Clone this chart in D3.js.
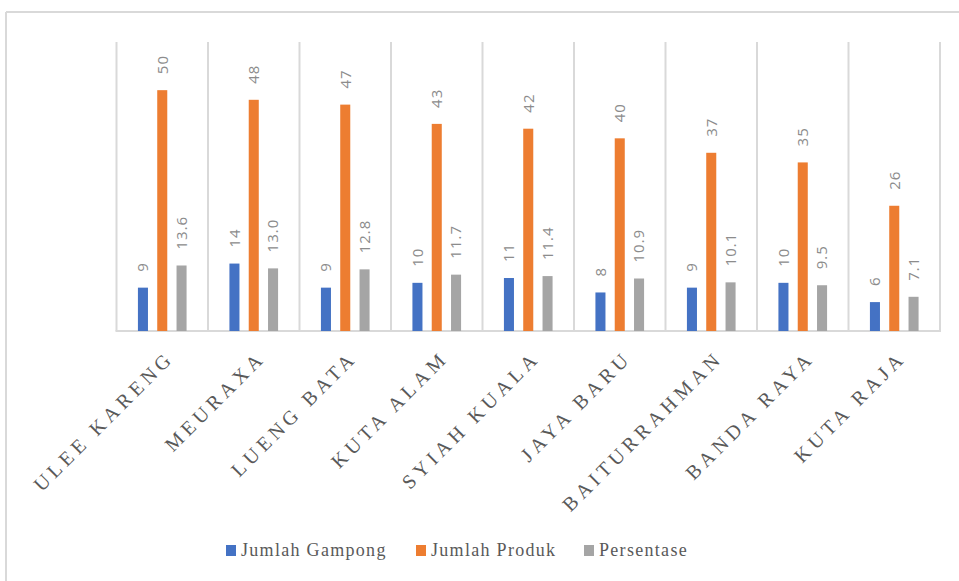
<!DOCTYPE html>
<html>
<head>
<meta charset="utf-8">
<script src="https://cdn.jsdelivr.net/npm/d3@7"></script>
<style>
  html, body { margin: 0; padding: 0; background: #fff; }
  svg { display: block; }
</style>
</head>
<body>
<svg id="chart" width="959" height="581"></svg>
<script>
// Kecamatan names and their three series
const categories = ["ULEE KARENG", "MEURAXA", "LUENG BATA", "KUTA ALAM", "SYIAH KUALA",
                    "JAYA BARU", "BAITURRAHMAN", "BANDA RAYA", "KUTA RAJA"];
const jumlahGampong = [9, 14, 9, 10, 11, 8, 9, 10, 6];
const jumlahProduk = [50, 48, 47, 43, 42, 40, 37, 35, 26];
const persentase = [13.6, 13.0, 12.8, 11.7, 11.4, 10.9, 10.1, 9.5, 7.1];
const seriesNames = ["Jumlah Gampong", "Jumlah Produk", "Persentase"];
const seriesColors = ["#4472C4", "#ED7D31", "#A5A5A5"];
const yDomainMax = 60;

const seriesValues = [jumlahGampong, jumlahProduk, persentase];
const fmt = [d3.format("d"), d3.format("d"), d3.format(".1f")];

const serif = "'Liberation Serif', 'Times New Roman', Times, serif";
const svg = d3.select("#chart");

// chart border (partially visible frame)
svg.append("line").attr("x1", 6).attr("x2", 959).attr("y1", 12).attr("y2", 12)
  .attr("stroke", "#d9d9d9").attr("stroke-width", 2);
svg.append("line").attr("x1", 6).attr("x2", 6).attr("y1", 12).attr("y2", 581)
  .attr("stroke", "#d9d9d9").attr("stroke-width", 2);

const plot = { left: 116.5, right: 940, top: 42, bottom: 331 };

const x = d3.scaleBand().domain(categories).range([plot.left, plot.right]).padding(0);
const y = d3.scaleLinear().domain([0, yDomainMax]).range([plot.bottom, plot.top]);
const x1 = d3.scaleBand().domain(seriesNames).range([0, x.bandwidth()])
  .paddingInner(0.48).paddingOuter(1.11);

// vertical category separators
const bounds = categories.map(c => x(c)).concat([plot.right]);
svg.append("g").selectAll("line").data(bounds).join("line")
  .attr("x1", d => d).attr("x2", d => d)
  .attr("y1", plot.top).attr("y2", plot.bottom)
  .attr("stroke", "#d9d9d9").attr("stroke-width", 2);

// baseline
svg.append("line").attr("x1", plot.left - 1).attr("x2", plot.right + 1)
  .attr("y1", plot.bottom).attr("y2", plot.bottom)
  .attr("stroke", "#d9d9d9").attr("stroke-width", 2);

// bars and value labels
const rows = [];
categories.forEach((c, i) => {
  seriesNames.forEach((s, j) => rows.push({ c, s, j, v: seriesValues[j][i] }));
});

const g = svg.append("g");
g.selectAll("rect").data(rows).join("rect")
  .attr("x", d => x(d.c) + x1(d.s))
  .attr("width", x1.bandwidth())
  .attr("y", d => y(d.v))
  .attr("height", d => y(0) - y(d.v))
  .attr("fill", d => seriesColors[d.j]);

g.selectAll("text").data(rows).join("text")
  .attr("transform", d => {
    const cx = x(d.c) + x1(d.s) + x1.bandwidth() / 2;
    return `translate(${cx},${y(d.v) - 16}) rotate(-90)`;
  })
  .attr("dy", "0.35em")
  .attr("text-anchor", "start")
  .attr("font-family", "'Open Sans', 'Liberation Sans', sans-serif")
  .attr("font-size", 15)
  .attr("letter-spacing", 1)
  .attr("fill", "#8c8c8c")
  .text(d => fmt[d.j](d.v));

// category labels, rotated
svg.append("g").selectAll("text").data(categories).join("text")
  .attr("transform", d => `translate(${x(d) + x.bandwidth() / 2 + 13},${plot.bottom + 28}) rotate(-45)`)
  .attr("text-anchor", "end")
  .style("font-family", serif)
  .attr("font-size", 20)
  .attr("letter-spacing", 4.5)
  .attr("fill", "#595959")
  .text(d => d);

// legend
const legendX = [226, 416, 584];
const legend = svg.append("g").selectAll("g").data(seriesNames).join("g")
  .attr("transform", (d, i) => `translate(${legendX[i]},545)`);
legend.append("rect").attr("width", 10).attr("height", 11)
  .attr("fill", (d, i) => seriesColors[i]);
legend.append("text").attr("x", 15).attr("y", 10.5)
  .style("font-family", serif)
  .attr("font-size", 18)
  .attr("letter-spacing", 1.3)
  .attr("fill", "#595959")
  .text(d => d);
</script>
</body>
</html>
